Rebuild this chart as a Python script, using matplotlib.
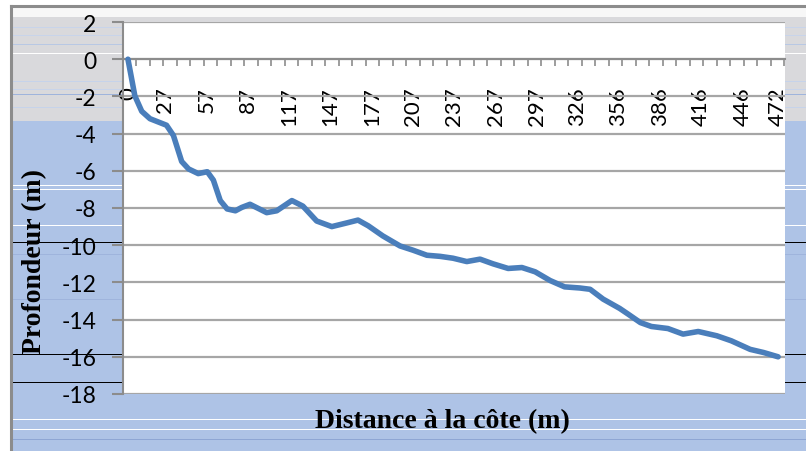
import numpy as np
import matplotlib
matplotlib.use('Agg')
import matplotlib.pyplot as plt
from matplotlib.colors import to_rgb
from matplotlib.ticker import FixedLocator

# distance from shore (m) and depth (m) read along the profile
distance = [0, 5, 10, 16, 28, 33, 39, 44, 51, 57.6, 62, 67, 72, 78, 82.6, 88.6,
            100.7, 108, 119, 127, 137, 148, 159, 167, 174.5, 185, 197.5, 207,
            217, 226.6, 236, 246, 255.6, 265, 276, 286, 295.6, 306.5, 317, 328,
            335.5, 345, 357, 363, 372, 380, 392, 403, 414, 427.5, 438, 451.7,
            461.5, 472]
depth = [0, -1.97, -2.8, -3.2, -3.55, -4.1, -5.5, -5.9, -6.15, -6.05, -6.5, -7.6,
         -8.05, -8.15, -7.97, -7.8, -8.25, -8.15, -7.6, -7.9, -8.7, -9.0, -8.8,
         -8.65, -8.96, -9.5, -10.04, -10.27, -10.54, -10.6, -10.7, -10.88, -10.75,
         -11.0, -11.25, -11.2, -11.43, -11.9, -12.24, -12.3, -12.37, -12.9, -13.4,
         -13.7, -14.16, -14.37, -14.48, -14.78, -14.64, -14.87, -15.14, -15.6,
         -15.77, -16.0]
xtick_labels = ['0', '27', '57', '87', '117', '147', '177', '207', '237', '267',
                '297', '326', '356', '386', '416', '446', '472']
xtick_pos = [0, 27, 57, 87, 117, 147, 177, 207, 237, 267, 297, 326, 356, 386,
             416, 446, 472]

W, H = 806, 452
fig = plt.figure(figsize=(W / 100, H / 100), dpi=100)

# textured background (striped blue, grey at the top)
bg = fig.add_axes([0, 0, 1, 1])
rows = np.zeros((H, 1, 3))
blue = np.array(to_rgb('#aec3e6'))
grey = np.array(to_rgb('#d9d9dc'))
for r in range(H):
    if r < 7:
        rows[r, 0] = (1, 1, 1)
    elif r < 18:
        rows[r, 0] = (0.97, 0.97, 0.97)
    elif r < 122:
        rows[r, 0] = grey
    else:
        rows[r, 0] = blue
stripes = {28: '#c8d4ea', 36: '#c8d4ea', 45: '#b8c8e4', 54: '#ffffff', 82: '#c6d3ea',
           90: '#c8d4ea', 95: '#9fb4dc', 108: '#c6d3ea', 186: '#ffffff', 190: '#ffffff',
           226: '#ffffff', 243: '#000000', 255: '#9fb4dc', 300: '#9fb4dc',
           355: '#000000', 383: '#000000', 420: '#ffffff', 430: '#ffffff',
           440: '#8ea6d4'}
for r, c in stripes.items():
    rows[r, 0] = to_rgb(c)
bg.imshow(rows, aspect='auto', extent=[0, W, H, 0], interpolation='nearest')
bg.fill_between([0, 10], 0, H, color='white')
bg.plot([11, 11], [7, H], color='#8c8c8c', lw=2.2)
bg.plot([11, W], [7, 7], color='#8c8c8c', lw=2.2)
bg.set_xlim(0, W)
bg.set_ylim(H, 0)
bg.axis('off')

left, right, top, bottom = 123, 785, 23, 395
ax = fig.add_axes([left / W, 1 - bottom / H, (right - left) / W, (bottom - top) / H])
ax.set_facecolor('white')

ax.plot(distance, depth, color='#4a7ebb', lw=4, solid_capstyle='round',
        solid_joinstyle='round', zorder=3)

ax.set_xlim(-3.6, 477)
ax.set_ylim(-18, 2)
ax.set_yticks(np.arange(-18, 3, 2))
ax.grid(axis='y', color='#a6a6a6', lw=1.6)
ax.set_axisbelow(True)

for s in ['top', 'right']:
    ax.spines[s].set_visible(False)
ax.spines['left'].set_color('#8c8c8c')
ax.spines['left'].set_linewidth(1.5)
ax.spines['bottom'].set_position(('data', 0))
ax.spines['bottom'].set_color('#8c8c8c')
ax.spines['bottom'].set_linewidth(1.5)

ax.xaxis.set_major_locator(FixedLocator(xtick_pos))
ax.set_xticklabels(xtick_labels, rotation=90, va='top', ha='center',
                   fontsize=16, family='Lato')
ax.tick_params(axis='x', which='major', length=0, pad=19.5)
ax.xaxis.set_minor_locator(FixedLocator(np.arange(6.2, 477, 9.8)))
ax.tick_params(axis='x', which='minor', length=5, width=1.2, color='#8c8c8c',
               direction='out')

ax.set_yticklabels([str(v) for v in range(-18, 3, 2)], fontsize=16.5, family='Lato')
ax.tick_params(axis='y', length=8, width=1.5, color='#8c8c8c', pad=11)

fig.text(442 / W, 1 - 422 / H, 'Distance à la côte (m)', ha='center', va='center',
         fontsize=20, fontweight='bold', family='Liberation Serif')
fig.text(35 / W, 1 - 262 / H, 'Profondeur (m)', ha='center', va='center',
         rotation=90, fontsize=20, fontweight='bold', family='Liberation Serif')

fig.savefig('out.png', dpi=100)
